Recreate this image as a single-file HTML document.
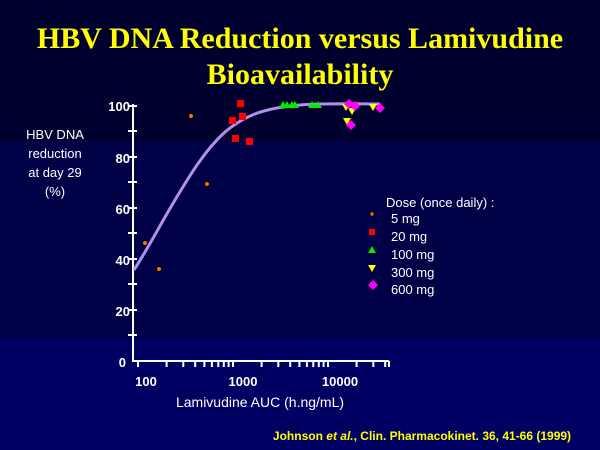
<!DOCTYPE html>
<html><head><meta charset="utf-8"><style>
body{margin:0;width:600px;height:450px;overflow:hidden;background:#000030}
svg{display:block}
</style></head><body>
<svg width="600" height="450" xmlns="http://www.w3.org/2000/svg" font-family="Liberation Sans, Arial, sans-serif">
<rect x="0" y="0" width="600" height="141" fill="#00002e"/>
<rect x="0" y="141" width="600" height="197" fill="#000046"/>
<rect x="0" y="338" width="600" height="112" fill="#000062"/>
<g font-family="Liberation Serif, serif" font-weight="bold" font-size="30" fill="#ffff00" text-anchor="middle">
<text x="300" y="48">HBV DNA Reduction versus Lamivudine</text>
<text x="300" y="84">Bioavailability</text>
</g>
<g fill="#fff" font-size="13" text-anchor="middle">
<text x="55" y="139">HBV DNA</text>
<text x="55" y="158">reduction</text>
<text x="55" y="177">at day 29</text>
<text x="55" y="196">(%)</text>
</g>
<g stroke="#fff" stroke-width="2" fill="none">
<line x1="133" y1="104" x2="133" y2="362"/>
<line x1="133" y1="361" x2="389" y2="361"/>
<path d="M128 106h9M128 131h9M128 157h9M128 182h9M128 208h9M128 233h9M128 259h9M128 284h9M128 310h9M128 335h9"/>
<path d="M138 361v6M166.6 361v6M183.3 361v6M195.2 361v6M204.4 361v6M211.9 361v6M218.3 361v6M223.8 361v6M228.6 361v6M233 361v6M261.6 361v6M278.3 361v6M290.2 361v6M299.4 361v6M306.9 361v6M313.3 361v6M318.8 361v6M323.6 361v6M328 361v6M356.6 361v6M373.3 361v6M385.2 361v6M389 361v6"/>
</g>
<g fill="#fff" font-size="13" font-weight="bold" text-anchor="end">
<text x="130" y="111">100</text><text x="130" y="163">80</text><text x="130" y="214">60</text>
<text x="130" y="265">40</text><text x="130" y="316">20</text><text x="126" y="367">0</text>
</g>
<g fill="#fff" font-size="13" font-weight="bold" text-anchor="middle">
<text x="146" y="386">100</text><text x="243" y="386">1000</text><text x="340" y="386">10000</text>
</g>
<text x="260" y="407" fill="#fff" font-size="14" text-anchor="middle">Lamivudine AUC (h.ng/mL)</text>
<text x="422" y="440" fill="#ffff00" font-size="12" font-weight="bold" text-anchor="middle">Johnson <tspan font-style="italic">et al.</tspan>, Clin. Pharmacokinet. 36, 41-66 (1999)</text>
<path d="M134 270 C150 245 160 225 175 200 C190 175 205 150 225 132 C245 115 265 108 300 105 C330 103 360 104 380 104" stroke="#b090e8" stroke-width="3" fill="none"/>
<g fill="#ff6a20" stroke="#000" stroke-width="1">
<circle cx="191" cy="116" r="2.5"/><circle cx="207" cy="184" r="2.5"/><circle cx="145" cy="243" r="2.5"/><circle cx="159" cy="269" r="2.5"/>
<circle cx="372" cy="214" r="2.2"/>
</g>
<g fill="#ff0000">
<rect x="237" y="100" width="7" height="7"/><rect x="229" y="117" width="7" height="7"/><rect x="239" y="113" width="7" height="7"/><rect x="232" y="135" width="7" height="7"/><rect x="246" y="138" width="7" height="7"/>
<rect x="369" y="229" width="6" height="6"/>
</g>
<g fill="#00ee00">
<path d="M283 101l4 7h-8z M287 101l4 7h-8z M292 101l4 7h-8z M295 101l4 7h-8z M312 101l4 7h-8z M318 101l4 7h-8z M372 246l4 7h-8z"/>
</g>
<g fill="#ffff00">
<path d="M342 104h8l-4 7z M348 108h8l-4 7z M369 104h8l-4 7z M343 118h8l-4 7z M368 265h8l-4 7z"/>
</g>
<g fill="#ff00ff">
<path d="M349 99l5 5-5 5-5-5z M355 101l5 5-5 5-5-5z M380 103l5 5-5 5-5-5z M351 120l5 5-5 5-5-5z M373 280l5 5-5 5-5-5z"/>
</g>
<g fill="#fff" font-size="13">
<text x="386" y="207">Dose (once daily) :</text>
<text x="391" y="223">5 mg</text>
<text x="391" y="241">20 mg</text>
<text x="391" y="259">100 mg</text>
<text x="391" y="277">300 mg</text>
<text x="391" y="294">600 mg</text>
</g>
</svg>
</body></html>
